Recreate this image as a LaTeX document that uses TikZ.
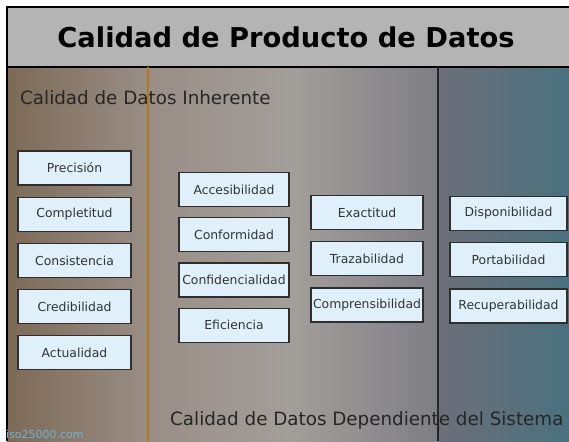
\documentclass[tikz,border=0pt]{standalone}
\usepackage{fontspec}
\setmainfont{DejaVu Sans}
\usetikzlibrary{positioning}

\definecolor{boxfill}{HTML}{DFF0FB}
\definecolor{boxline}{HTML}{2E2E2E}
\definecolor{band}{HTML}{B4B4B4}
\definecolor{brown1}{HTML}{7C6A56}
\definecolor{brown2}{HTML}{9A8E86}
\definecolor{grey1}{HTML}{A29E9A}
\definecolor{grey2}{HTML}{7E7E84}
\definecolor{grey3}{HTML}{6C6F79}
\definecolor{teal1}{HTML}{4A717E}
\definecolor{divline}{HTML}{B07A1C}
\definecolor{wmark}{HTML}{6FB3DA}

\begin{document}
\begin{tikzpicture}[x=1pt, y=-1pt,
    attr/.style={draw=boxline, line width=1.2pt, fill=boxfill, rectangle, minimum height=34pt,
      inner xsep=1pt, align=center, font=\fontsize{12.4}{14}\selectfont, text=black!80},
    col1/.style={attr, minimum width=113pt},
    col2/.style={attr, minimum width=110pt},
    col3/.style={attr, minimum width=112pt},
    col4/.style={attr, minimum width=117pt},
    label/.style={font=\fontsize{18.3}{21}\selectfont, text=black!85, inner sep=0pt, anchor=west}
  ]
  \useasboundingbox (0,0) rectangle (569,441);

  % background
  \shade[left color=brown1, right color=brown2] (7,67) rectangle (150,441);
  \shade[left color=brown2, right color=grey1] (150,67) rectangle (290,441);
  \shade[left color=grey1, right color=grey2] (290,67) rectangle (438,441);
  \shade[left color=grey3, right color=teal1] (438,67) rectangle (569,441);
  \fill[band] (7,7) rectangle (569,67);
  \draw[black, line width=1.5pt] (569,7) -- (7,7) -- (7,441);
  \draw[black, line width=1.5pt] (7,67) -- (569,67);
  \draw[divline, line width=1.2pt] (148,67) -- (148,441);
  \draw[black!85, line width=1.5pt] (438,67) -- (438,441);

  % texts
  \node[font=\bfseries\fontsize{27.3}{32}\selectfont] (title) at (286,37) {Calidad de Producto de Datos};
  \node[label] (inher) at (20,98) {Calidad de Datos Inherente};
  \node[label] (depen) at (170,420) {Calidad de Datos Dependiente del Sistema};
  \node[font=\fontsize{11}{12}\selectfont, text=wmark, inner sep=0pt, anchor=west] (web) at (6,434) {iso25000.com};

  % inherente
  \node[col1] (prec) at (74.5,168) {Precisión};
  \node[col1, below=11pt of prec] (compl) {Completitud};
  \node[col1, below=11pt of compl] (cons) {Consistencia};
  \node[col1, below=11pt of cons] (cred) {Credibilidad};
  \node[col1, below=11pt of cred] (actu) {Actualidad};

  % inherente y dependiente
  \node[col2] (acce) at (234,189.5) {Accesibilidad};
  \node[col2, below=10pt of acce] (conf) {Conformidad};
  \node[col2, below=10pt of conf] (confi) {Confidencialidad};
  \node[col2, below=10pt of confi] (efic) {Eficiencia};

  \node[col3] (exac) at (367,212.5) {Exactitud};
  \node[col3, below=11pt of exac] (traz) {Trazabilidad};
  \node[col3, below=11pt of traz] (compr) {Comprensibilidad};

  % dependiente
  \node[col4] (disp) at (508.5,213.5) {Disponibilidad};
  \node[col4, below=11pt of disp] (port) {Portabilidad};
  \node[col4, below=11pt of port] (recu) {Recuperabilidad};
\end{tikzpicture}
\end{document}
